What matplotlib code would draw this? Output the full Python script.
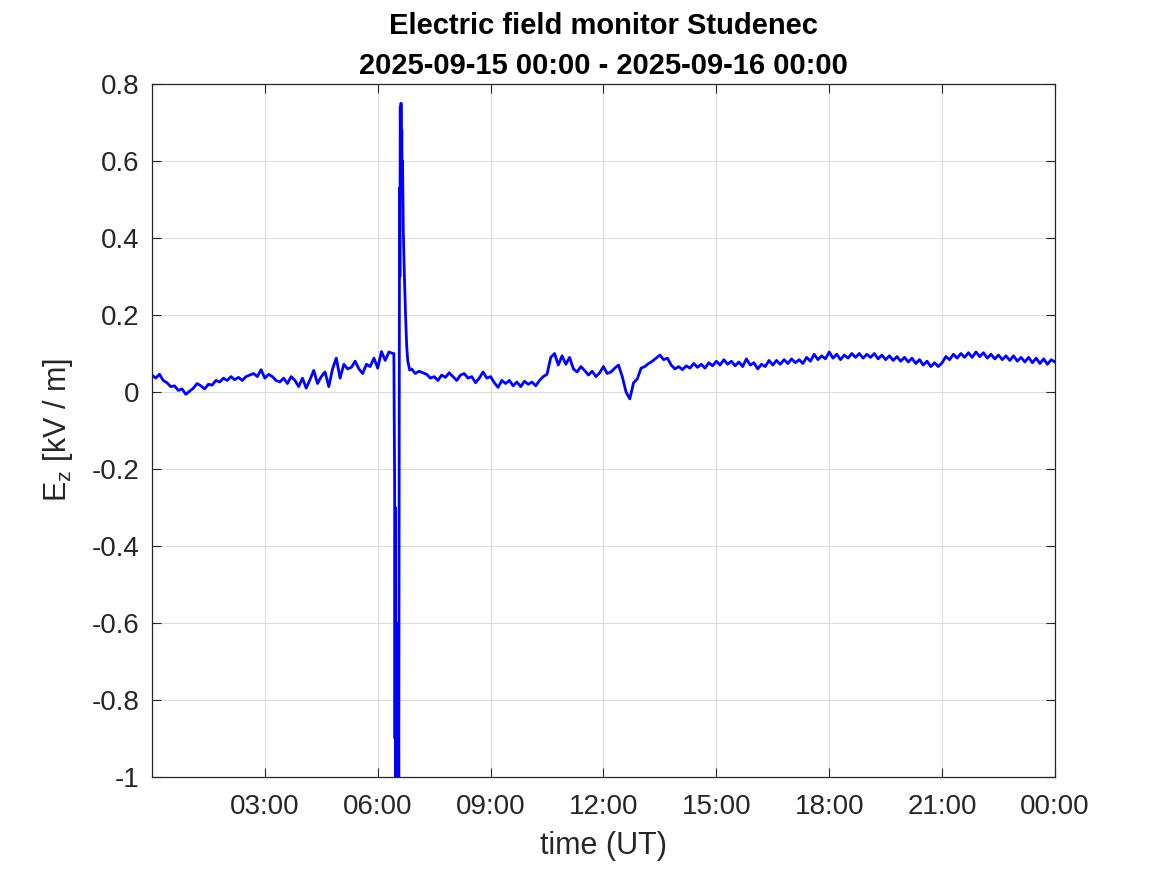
import numpy as np
import matplotlib
matplotlib.use("Agg")
import matplotlib.pyplot as plt
import matplotlib.dates as mdates
from datetime import datetime, timedelta
from matplotlib.ticker import FixedLocator, FuncFormatter

plt.rcParams['font.family'] = ['Liberation Sans', 'DejaVu Sans']
plt.rcParams['axes.unicode_minus'] = False
plt.rcParams['mathtext.default'] = 'regular'

# Ez [kV/m], sampled every 0.1 h from 00:00 to 06:24 UT
ez_before = [0.044, 0.036, 0.046, 0.030, 0.024, 0.014, 0.016, 0.004, 0.008, -0.006,
             0.002, 0.010, 0.022, 0.016, 0.008, 0.020, 0.018, 0.030, 0.026, 0.036,
             0.030, 0.040, 0.032, 0.038, 0.030, 0.040, 0.044, 0.048, 0.040, 0.058,
             0.036, 0.046, 0.040, 0.030, 0.026, 0.036, 0.022, 0.040, 0.030, 0.014,
             0.036, 0.010, 0.032, 0.056, 0.022, 0.040, 0.052, 0.014, 0.060, 0.088,
             0.036, 0.072, 0.060, 0.064, 0.080, 0.060, 0.048, 0.072, 0.066, 0.088,
             0.062, 0.105, 0.082, 0.104, 0.100]
hours_before_start, hours_before_end = 0.0, 6.4

# Spike around 06:30 UT (hours, Ez)
hours_spike = [6.43, 6.45, 6.46, 6.47, 6.48, 6.49, 6.50, 6.51, 6.52, 6.53, 6.54, 6.55,
               6.56, 6.57, 6.58, 6.59, 6.60, 6.61, 6.62, 6.63, 6.64, 6.65, 6.66, 6.68,
               6.71, 6.74, 6.77, 6.80, 6.85]
ez_spike = [0.100, -0.240, -0.900, -0.300, -1.050, -0.780, -1.050, -0.600, -1.050,
            -0.700, -1.050, -0.670, -1.050, -0.250, 0.530, 0.300, 0.740, 0.550, 0.750,
            0.600, 0.680, 0.560, 0.600, 0.420, 0.300, 0.200, 0.120, 0.080, 0.057]

# Ez [kV/m], sampled every 0.1 h from 06:54 to 24:00 UT
ez_after = [0.060, 0.048, 0.054, 0.050, 0.046, 0.036, 0.040, 0.030, 0.044, 0.038,
            0.050, 0.040, 0.030, 0.044, 0.048, 0.036, 0.040, 0.024, 0.036, 0.052,
            0.036, 0.040, 0.024, 0.012, 0.030, 0.022, 0.030, 0.016, 0.026, 0.014,
            0.028, 0.020, 0.026, 0.016, 0.030, 0.040, 0.046, 0.090, 0.100, 0.070,
            0.094, 0.072, 0.090, 0.060, 0.052, 0.066, 0.056, 0.044, 0.054, 0.040,
            0.050, 0.066, 0.048, 0.052, 0.062, 0.070, 0.040, 0.000, -0.018, 0.024,
            0.034, 0.062, 0.066, 0.074, 0.080, 0.088, 0.096, 0.084, 0.088, 0.070,
            0.060, 0.066, 0.058, 0.068, 0.062, 0.074, 0.064, 0.072, 0.062, 0.076,
            0.068, 0.080, 0.070, 0.084, 0.072, 0.080, 0.068, 0.078, 0.066, 0.086,
            0.070, 0.076, 0.060, 0.072, 0.066, 0.082, 0.070, 0.082, 0.072, 0.084,
            0.074, 0.086, 0.076, 0.084, 0.074, 0.090, 0.080, 0.098, 0.084, 0.094,
            0.086, 0.104, 0.088, 0.098, 0.084, 0.096, 0.088, 0.100, 0.090, 0.100,
            0.088, 0.098, 0.090, 0.100, 0.086, 0.096, 0.084, 0.094, 0.082, 0.092,
            0.080, 0.090, 0.078, 0.088, 0.074, 0.084, 0.070, 0.080, 0.066, 0.076,
            0.066, 0.076, 0.092, 0.084, 0.098, 0.088, 0.100, 0.090, 0.102, 0.090,
            0.104, 0.092, 0.102, 0.088, 0.098, 0.086, 0.096, 0.084, 0.094, 0.082,
            0.094, 0.080, 0.090, 0.078, 0.090, 0.076, 0.088, 0.074, 0.086, 0.072,
            0.084, 0.078]
hours_after_start, hours_after_end = 6.9, 24.0

ytick_vals = [-1, -0.8, -0.6, -0.4, -0.2, 0, 0.2, 0.4, 0.6, 0.8]
xtick_hours = [3, 6, 9, 12, 15, 18, 21, 24]

hours = np.concatenate([
    np.linspace(hours_before_start, hours_before_end, len(ez_before)),
    np.array(hours_spike),
    np.linspace(hours_after_start, hours_after_end, len(ez_after)),
])
ez = np.concatenate([ez_before, ez_spike, ez_after])

start = datetime(2025, 9, 15, 0, 0)
times = [start + timedelta(hours=float(h)) for h in hours]

fig = plt.figure(figsize=(11.67, 8.75), dpi=100)
ax = fig.add_axes([0.1302, 0.112, 0.7738, 0.792])

ax.plot(times, ez, color=(0, 0, 1), lw=2.0)

ax.set_xlim(start, start + timedelta(hours=24))
ax.set_ylim(-1, 0.8)

ax.xaxis.set_major_locator(FixedLocator([mdates.date2num(start + timedelta(hours=h)) for h in xtick_hours]))
ax.xaxis.set_major_formatter(mdates.DateFormatter('%H:%M'))
ax.yaxis.set_major_locator(FixedLocator(ytick_vals))
ax.yaxis.set_major_formatter(FuncFormatter(lambda v, p: '%g' % round(v, 2)))

ax.grid(True, color='#dcdcdc', lw=0.8)
ax.set_axisbelow(True)
for s in ax.spines.values():
    s.set_color('#262626')
    s.set_linewidth(0.9)
ax.tick_params(direction='in', length=6.5, width=0.8, colors='#262626',
               labelsize=20, top=True, right=True)
ax.tick_params(axis='x', pad=12)
ax.tick_params(axis='y', pad=9)

ax.set_xlabel('time (UT)', fontsize=22, color='#262626', labelpad=8)
ax.set_ylabel('E$_z$ [kV / m]', fontsize=22, color='#262626', labelpad=12)
ax.set_title('Electric field monitor Studenec\n2025-09-15 00:00 - 2025-09-16 00:00',
             fontsize=21, fontweight='bold', pad=7, linespacing=1.55)

fig.savefig('out.png', dpi=100)
